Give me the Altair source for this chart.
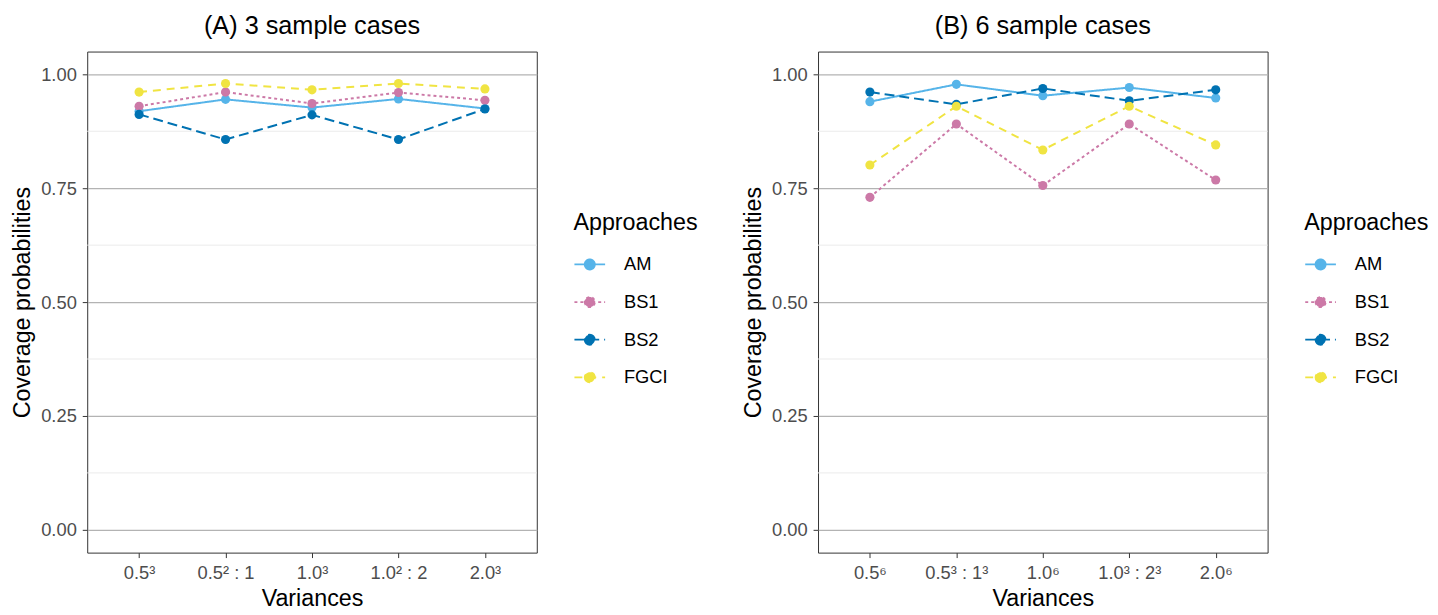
import altair as alt
import pandas as pd

approaches = ["AM", "BS1", "BS2", "FGCI"]
colors = ["#56B4E9", "#CC79A7", "#0072B2", "#F0E442"]
dashes = [[1, 0], [3, 3], [10, 5], [8, 6]]

labels_a = ["0.5³", "0.5² : 1", "1.0³", "1.0² : 2", "2.0³"]
labels_b = ["0.5⁶", "0.5³ : 1³", "1.0⁶", "1.0³ : 2³", "2.0⁶"]

am_a = [0.919, 0.945, 0.927, 0.946, 0.925]
bs1_a = [0.930, 0.961, 0.936, 0.960, 0.943]
bs2_a = [0.912, 0.857, 0.911, 0.857, 0.924]
fgci_a = [0.961, 0.980, 0.966, 0.980, 0.968]

am_b = [0.940, 0.978, 0.953, 0.971, 0.948]
bs1_b = [0.730, 0.891, 0.756, 0.891, 0.768]
bs2_b = [0.961, 0.934, 0.969, 0.942, 0.966]
fgci_b = [0.801, 0.930, 0.834, 0.930, 0.845]

y_ticks = [0.0, 0.25, 0.5, 0.75, 1.0]
minor_ticks = [0.125, 0.375, 0.625, 0.875]


def long_df(labels, series):
    rows = []
    for name, vals in zip(approaches, series):
        for lab, v in zip(labels, vals):
            rows.append({"Variance": lab, "Approach": name, "p": v})
    return pd.DataFrame(rows)


df_a = long_df(labels_a, [am_a, bs1_a, bs2_a, fgci_a])
df_b = long_df(labels_b, [am_b, bs1_b, bs2_b, fgci_b])
minor_df = pd.DataFrame({"p": minor_ticks})

LEG_SYMBOL = "M-1,0L1,0M-0.33,0a0.33,0.33 0 1,0 0.66,0a0.33,0.33 0 1,0 -0.66,0"


def legend():
    return alt.Legend(
        title="Approaches",
        orient="none",
        legendX=491,
        legendY=161,
        symbolType=LEG_SYMBOL,
        symbolSize=960,
        symbolStrokeWidth=1.8,
        labelFontSize=18.5,
        titleFontSize=23.5,
        titleFontWeight="normal",
        titleColor="black",
        labelColor="black",
        rowPadding=12,
        titlePadding=14,
        labelOffset=18,
    )


def panel(df, labels, title):
    x = alt.X(
        "Variance:N",
        sort=labels,
        scale=alt.Scale(type="point", padding=0.6),
        axis=alt.Axis(
            title="Variances",
            labelAngle=0,
            labelFontSize=18.5,
            titleFontSize=23.5,
            titleFontWeight="normal",
            labelColor="#4d4d4d",
            titleColor="black",
            tickColor="#333333",
            tickSize=5,
            labelPadding=6,
            titlePadding=5,
            gridColor="#b3b3b3",
            gridWidth=1.2,
            domain=False,
        ),
    )
    y_axis = alt.Axis(
        title="Coverage probabilities",
        values=y_ticks,
        format=".2f",
        labelFontSize=18.5,
        titleFontSize=23.5,
        titleFontWeight="normal",
        labelColor="#4d4d4d",
        titleColor="black",
        tickColor="#333333",
        tickSize=5,
        labelPadding=6,
        titlePadding=6,
        gridColor="#b3b3b3",
        gridWidth=1.2,
        domain=False,
    )
    y_scale = alt.Scale(domain=[-0.05, 1.05], nice=False, zero=False)
    y = alt.Y("p:Q", scale=y_scale, axis=y_axis)
    color = alt.Color(
        "Approach:N",
        scale=alt.Scale(domain=approaches, range=colors),
        legend=legend(),
    )
    dash = alt.StrokeDash(
        "Approach:N",
        scale=alt.Scale(domain=approaches, range=dashes),
        legend=legend(),
    )
    minor = alt.Chart(minor_df).mark_rule(color="#ebebeb", strokeWidth=1).encode(
        y=alt.Y("p:Q", scale=y_scale, axis=y_axis)
    )
    base = alt.Chart(df).encode(x=x, y=y, color=color)
    lines = base.mark_line(strokeWidth=2).encode(strokeDash=dash)
    pts = base.mark_point(filled=True, size=85, opacity=1)
    return alt.layer(minor, lines, pts).properties(
        width=454,
        height=506,
        title=alt.TitleParams(title, fontSize=25.5, fontWeight="normal", anchor="middle", offset=12, color="black"),
    )


chart = (
    alt.hconcat(panel(df_a, labels_a, "(A) 3 sample cases"), panel(df_b, labels_b, "(B) 6 sample cases"), spacing=42)
    .resolve_scale(color="independent", strokeDash="independent", x="independent")
    .properties(padding={"left": 2, "top": 3, "right": 0, "bottom": 0})
    .configure(font="Liberation Sans")
    .configure_view(stroke="#333333", strokeWidth=1)
)

chart.save("out.html", embed_options={"renderer": "svg", "actions": False})
